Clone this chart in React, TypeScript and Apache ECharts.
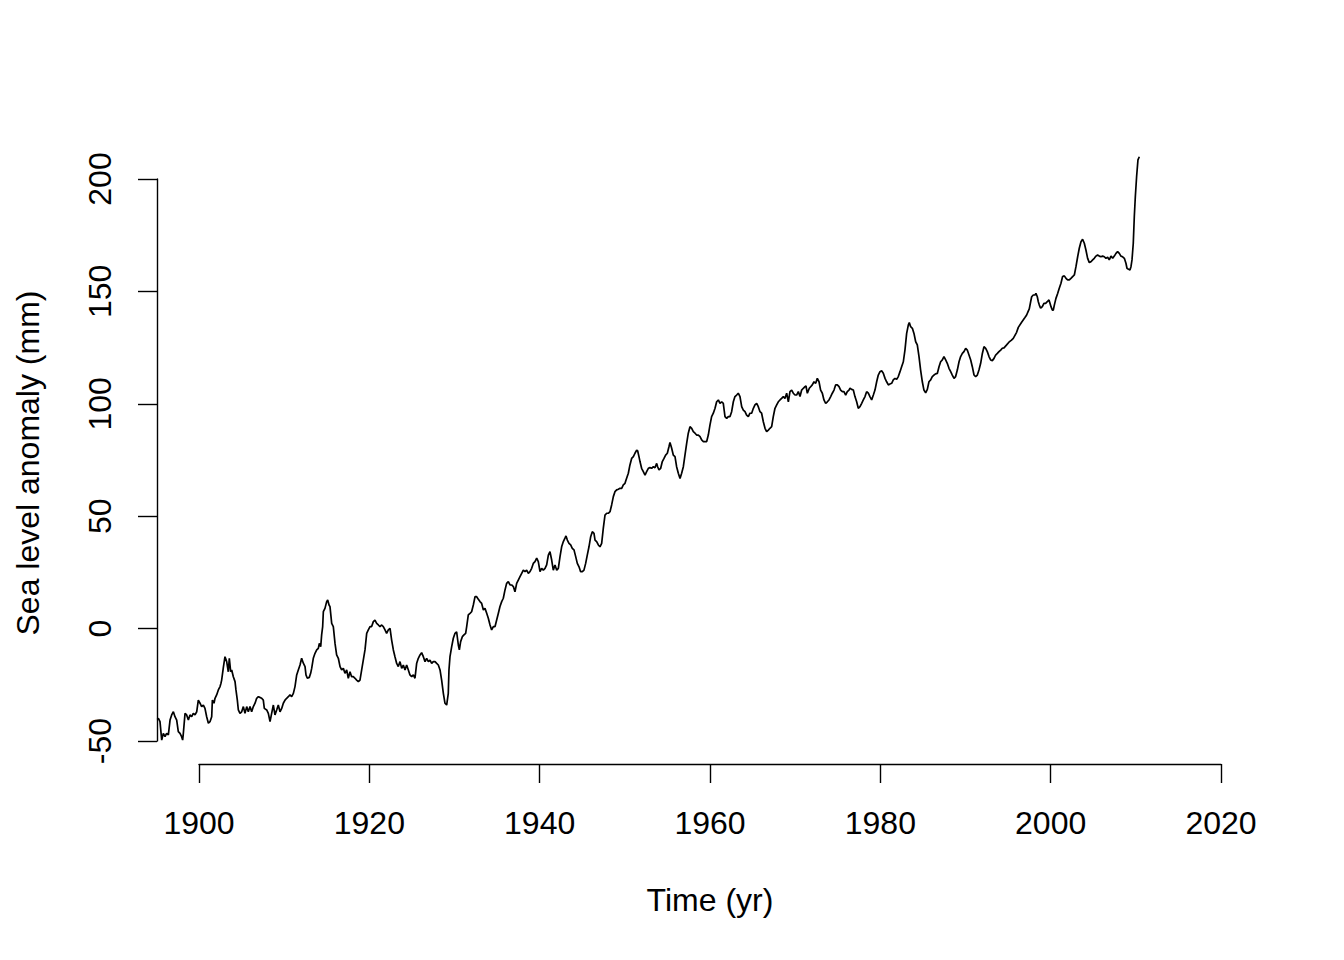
import React, { useEffect, useRef } from "react";
import * as echarts from "echarts";

// Time (yr) of each reading
const time: number[] = [
  1895.10, 1895.23, 1895.42, 1895.62, 1895.81, 1896.01, 1896.20, 1896.40, 1896.60, 1896.79,
  1896.99, 1897.18, 1897.38, 1897.57, 1897.77, 1897.96, 1898.08, 1898.16, 1898.36, 1898.55,
  1898.75, 1898.94, 1899.14, 1899.33, 1899.53, 1899.73, 1899.92, 1900.12, 1900.31, 1900.51,
  1900.70, 1900.90, 1901.10, 1901.29, 1901.49, 1901.57, 1901.76, 1901.88, 1902.07, 1902.27,
  1902.47, 1902.58, 1902.66, 1902.86, 1903.05, 1903.25, 1903.44, 1903.56, 1903.72, 1903.84,
  1904.03, 1904.23, 1904.34, 1904.50, 1904.62, 1904.81, 1905.01, 1905.21, 1905.40, 1905.60,
  1905.79, 1905.99, 1906.18, 1906.38, 1906.58, 1906.77, 1906.97, 1907.16, 1907.36, 1907.55,
  1907.67, 1907.95, 1908.14, 1908.34, 1908.53, 1908.73, 1908.92, 1909.12, 1909.31, 1909.51,
  1909.71, 1909.90, 1910.10, 1910.29, 1910.49, 1910.68, 1910.88, 1911.08, 1911.27, 1911.47,
  1911.66, 1911.86, 1912.05, 1912.25, 1912.45, 1912.56, 1912.72, 1912.95, 1913.11, 1913.23,
  1913.42, 1913.62, 1913.82, 1914.01, 1914.13, 1914.29, 1914.40, 1914.52, 1914.60, 1914.79,
  1914.99, 1915.11, 1915.27, 1915.38, 1915.58, 1915.77, 1915.97, 1916.16, 1916.36, 1916.56,
  1916.75, 1916.95, 1917.14, 1917.34, 1917.53, 1917.73, 1917.92, 1918.12, 1918.32, 1918.51,
  1918.71, 1918.90, 1919.10, 1919.29, 1919.49, 1919.69, 1919.88, 1920.08, 1920.27, 1920.47,
  1920.66, 1920.86, 1921.06, 1921.25, 1921.45, 1921.64, 1921.84, 1922.03, 1922.23, 1922.43,
  1922.62, 1922.82, 1923.01, 1923.21, 1923.40, 1923.60, 1923.80, 1923.99, 1924.19, 1924.38,
  1924.58, 1924.77, 1924.97, 1925.17, 1925.36, 1925.56, 1925.75, 1925.95, 1926.14, 1926.34,
  1926.54, 1926.73, 1926.93, 1927.12, 1927.32, 1927.51, 1927.71, 1927.91, 1928.10, 1928.30,
  1928.49, 1928.69, 1928.88, 1929.08, 1929.27, 1929.35, 1929.47, 1929.67, 1929.86, 1930.06,
  1930.25, 1930.45, 1930.57, 1930.72, 1930.92, 1931.11, 1931.31, 1931.43, 1931.62, 1931.82,
  1932.01, 1932.21, 1932.41, 1932.60, 1932.80, 1932.99, 1933.19, 1933.39, 1933.58, 1933.78,
  1933.97, 1934.17, 1934.36, 1934.56, 1934.76, 1934.95, 1935.15, 1935.34, 1935.54, 1935.73,
  1935.93, 1936.12, 1936.32, 1936.52, 1936.71, 1936.91, 1937.10, 1937.30, 1937.49, 1937.69,
  1937.89, 1938.08, 1938.28, 1938.47, 1938.67, 1938.86, 1939.06, 1939.25, 1939.45, 1939.65,
  1939.84, 1940.04, 1940.23, 1940.43, 1940.63, 1940.82, 1941.02, 1941.21, 1941.41, 1941.60,
  1941.80, 1942.00, 1942.19, 1942.39, 1942.58, 1942.78, 1942.97, 1943.09, 1943.25, 1943.44,
  1943.64, 1943.83, 1944.03, 1944.23, 1944.42, 1944.62, 1944.81, 1945.01, 1945.20, 1945.40,
  1945.59, 1945.79, 1945.99, 1946.18, 1946.38, 1946.50, 1946.69, 1946.89, 1947.08, 1947.28,
  1947.47, 1947.67, 1947.87, 1948.06, 1948.26, 1948.45, 1948.65, 1948.84, 1949.04, 1949.24,
  1949.43, 1949.63, 1949.82, 1950.02, 1950.14, 1950.41, 1950.60, 1950.80, 1951.00, 1951.19,
  1951.39, 1951.51, 1951.66, 1951.78, 1951.97, 1952.17, 1952.37, 1952.56, 1952.76, 1952.95,
  1953.15, 1953.35, 1953.54, 1953.74, 1953.85, 1954.01, 1954.21, 1954.40, 1954.60, 1954.79,
  1954.99, 1955.18, 1955.30, 1955.50, 1955.69, 1955.89, 1956.08, 1956.28, 1956.48, 1956.67,
  1956.87, 1957.06, 1957.26, 1957.45, 1957.65, 1957.85, 1958.04, 1958.24, 1958.43, 1958.63,
  1958.83, 1959.02, 1959.22, 1959.41, 1959.61, 1959.80, 1960.00, 1960.19, 1960.39, 1960.59,
  1960.78, 1960.98, 1961.17, 1961.37, 1961.56, 1961.76, 1961.96, 1962.15, 1962.35, 1962.54,
  1962.74, 1962.93, 1963.13, 1963.32, 1963.52, 1963.72, 1963.91, 1964.11, 1964.30, 1964.50,
  1964.69, 1964.89, 1965.09, 1965.28, 1965.48, 1965.67, 1965.87, 1966.06, 1966.26, 1966.46,
  1966.65, 1966.85, 1967.04, 1967.24, 1967.43, 1967.63, 1967.83, 1968.02, 1968.22, 1968.41,
  1968.61, 1968.80, 1969.00, 1969.20, 1969.39, 1969.59, 1969.78, 1969.98, 1970.17, 1970.37,
  1970.57, 1970.76, 1970.96, 1971.15, 1971.27, 1971.43, 1971.66, 1971.82, 1972.01, 1972.21,
  1972.41, 1972.60, 1972.80, 1972.99, 1973.19, 1973.38, 1973.58, 1973.78, 1973.97, 1974.17,
  1974.36, 1974.56, 1974.75, 1974.95, 1975.15, 1975.34, 1975.54, 1975.73, 1975.93, 1976.12,
  1976.32, 1976.44, 1976.63, 1976.83, 1977.02, 1977.22, 1977.41, 1977.61, 1977.81, 1978.00,
  1978.20, 1978.39, 1978.59, 1978.78, 1978.98, 1979.18, 1979.37, 1979.57, 1979.76, 1979.96,
  1980.15, 1980.35, 1980.55, 1980.74, 1980.94, 1981.13, 1981.33, 1981.52, 1981.72, 1981.92,
  1982.11, 1982.31, 1982.50, 1982.70, 1982.89, 1983.09, 1983.29, 1983.40, 1983.56, 1983.76,
  1983.95, 1984.15, 1984.34, 1984.54, 1984.73, 1984.93, 1985.12, 1985.32, 1985.52, 1985.71,
  1985.91, 1986.10, 1986.30, 1986.49, 1986.69, 1986.89, 1987.08, 1987.28, 1987.47, 1987.67,
  1987.86, 1988.06, 1988.26, 1988.45, 1988.65, 1988.84, 1989.04, 1989.24, 1989.43, 1989.63,
  1989.82, 1990.02, 1990.21, 1990.41, 1990.61, 1990.80, 1991.00, 1991.19, 1991.39, 1991.58,
  1991.78, 1991.98, 1992.17, 1992.37, 1992.56, 1992.76, 1992.95, 1993.15, 1993.35, 1993.54,
  1993.74, 1993.93, 1994.13, 1994.32, 1994.52, 1994.83, 1995.10, 1995.40, 1995.61, 1996.00,
  1996.20, 1996.59, 1996.98, 1997.18, 1997.37, 1997.49, 1997.65, 1997.77, 1997.96, 1998.16,
  1998.27, 1998.43, 1998.55, 1998.67, 1998.82, 1999.02, 1999.21, 1999.41, 1999.60, 1999.80,
  1999.92, 2000.04, 2000.19, 2000.31, 2000.43, 2000.62, 2000.82, 2001.01, 2001.21, 2001.40,
  2001.60, 2001.80, 2001.99, 2002.19, 2002.38, 2002.58, 2002.78, 2002.97, 2003.17, 2003.36,
  2003.56, 2003.75, 2003.95, 2004.14, 2004.34, 2004.54, 2004.73, 2004.93, 2005.12, 2005.32,
  2005.51, 2005.71, 2005.91, 2006.10, 2006.30, 2006.49, 2006.69, 2006.88, 2007.08, 2007.28,
  2007.47, 2007.67, 2007.86, 2008.06, 2008.25, 2008.45, 2008.65, 2008.84, 2008.96, 2009.15,
  2009.31, 2009.43, 2009.55, 2009.70, 2009.82, 2009.94, 2010.09, 2010.25, 2010.41,
];

// Sea level anomaly (mm) of each reading
const anomaly: number[] = [
  -40.5, -39.9, -41.4, -49.6, -46.6, -48.1, -46.6, -47.3, -40.7, -38.4,
  -37.0, -39.2, -40.7, -45.8, -46.6, -48.1, -49.6, -46.6, -37.7, -38.4,
  -40.7, -38.4, -39.2, -37.7, -38.4, -37.0, -31.8, -33.2, -34.7, -34.0,
  -35.5, -39.2, -42.1, -41.4, -39.2, -31.8, -33.2, -31.0, -29.5, -27.3,
  -25.8, -24.3, -22.9, -17.3, -12.5, -14.7, -19.2, -13.2, -19.2, -18.4,
  -21.4, -23.6, -27.3, -31.8, -36.2, -37.7, -37.0, -34.7, -37.7, -34.7,
  -37.0, -34.7, -37.0, -34.7, -33.2, -31.0, -30.3, -30.6, -31.0, -31.8,
  -35.5, -36.2, -37.7, -41.4, -37.7, -34.0, -38.4, -36.2, -34.0, -37.0,
  -35.5, -33.2, -31.8, -31.0, -30.3, -29.5, -30.3, -28.8, -25.8, -20.6,
  -18.4, -16.2, -13.2, -15.4, -16.9, -20.6, -22.1, -21.7, -19.9, -17.7,
  -13.2, -11.0, -9.5, -8.8, -6.6, -8.0, -2.8, 0.9, 7.5, 9.0,
  12.0, 12.7, 10.5, 9.8, 2.3, 0.9, -6.6, -11.7, -13.2, -16.9,
  -18.4, -17.7, -19.9, -18.4, -22.1, -19.2, -21.4, -21.4, -22.1, -22.9,
  -23.6, -22.9, -18.4, -14.0, -9.5, -2.1, -0.6, 0.9, 0.9, 3.1,
  3.8, 2.3, 1.6, 0.9, 1.6, 0.9, -0.6, -2.1, -0.6, 0.1,
  -5.1, -9.5, -12.5, -15.5, -16.9, -14.7, -17.7, -16.2, -18.4, -16.2,
  -18.4, -20.6, -21.4, -20.6, -22.1, -15.4, -13.2, -11.7, -10.7, -12.5,
  -14.7, -13.2, -14.7, -14.0, -15.5, -14.7, -14.7, -15.5, -16.2, -18.4,
  -22.9, -28.8, -33.2, -34.0, -28.8, -18.4, -12.5, -8.0, -4.3, -2.1,
  -1.4, -7.3, -9.5, -5.8, -3.6, -2.8, -2.1, 0.9, 6.1, 6.8,
  7.5, 10.5, 14.2, 14.2, 13.0, 12.0, 11.2, 8.3, 9.0, 6.8,
  4.6, 1.6, -0.6, 0.9, 0.9, 3.8, 6.8, 9.8, 12.0, 13.5,
  17.2, 20.1, 20.9, 19.4, 19.4, 18.7, 16.4, 20.1, 21.6, 23.1,
  24.6, 26.0, 25.3, 26.0, 24.6, 25.3, 26.8, 29.0, 29.8, 31.3,
  29.8, 25.3, 26.8, 26.0, 26.8, 28.3, 32.7, 34.2, 30.5, 26.0,
  28.3, 26.0, 26.8, 32.0, 36.4, 38.7, 40.2, 41.2, 39.4, 37.9,
  37.2, 35.7, 35.0, 32.0, 29.0, 27.5, 25.3, 25.3, 26.0, 29.0,
  32.7, 36.4, 40.9, 43.1, 42.4, 39.4, 38.7, 37.2, 36.4, 37.9,
  44.6, 50.5, 51.3, 51.3, 52.0, 55.0, 58.7, 60.9, 61.7, 62.0,
  62.4, 62.4, 63.9, 64.6, 66.1, 69.1, 72.8, 75.7, 76.5, 78.0,
  79.4, 79.0, 76.5, 74.3, 71.3, 69.8, 68.3, 69.8, 71.3, 71.6,
  71.3, 72.0, 71.6, 73.5, 72.0, 70.6, 71.3, 74.3, 75.7, 77.2,
  78.0, 80.9, 82.8, 80.2, 77.2, 76.5, 72.0, 69.1, 66.8, 69.1,
  72.0, 77.2, 82.4, 86.9, 89.8, 89.1, 87.6, 86.9, 86.1, 86.1,
  85.4, 83.9, 83.2, 83.2, 83.2, 86.1, 90.6, 94.3, 95.8, 98.0,
  100.9, 101.7, 100.2, 100.9, 100.2, 94.3, 93.5, 94.3, 94.3, 96.5,
  100.9, 103.2, 103.9, 104.7, 103.2, 98.7, 97.2, 96.5, 95.0, 94.3,
  95.8, 95.8, 98.0, 99.5, 100.2, 98.7, 96.5, 95.8, 92.0, 89.1,
  87.6, 88.3, 89.1, 89.8, 94.3, 98.0, 99.5, 100.9, 101.7, 102.4,
  103.2, 102.4, 104.7, 100.9, 105.4, 106.1, 104.7, 103.9, 103.9, 105.4,
  103.2, 106.1, 106.9, 107.6, 107.9, 104.7, 106.9, 107.6, 108.4, 109.8,
  109.1, 111.3, 109.8, 106.1, 104.7, 101.7, 100.2, 100.9, 101.7, 103.2,
  104.7, 106.1, 108.4, 108.4, 107.6, 106.1, 105.4, 105.4, 103.9, 105.4,
  106.1, 106.9, 106.4, 106.1, 103.2, 100.9, 98.0, 98.7, 100.2, 101.7,
  103.2, 105.4, 104.7, 103.2, 101.7, 103.9, 106.1, 109.8, 112.8, 114.3,
  114.7, 113.6, 111.3, 109.8, 108.4, 108.8, 109.1, 110.6, 111.3, 110.9,
  112.1, 114.3, 116.5, 118.7, 123.9, 131.3, 135.1, 136.1, 134.3, 133.6,
  131.3, 127.6, 126.2, 121.0, 115.0, 109.8, 106.1, 104.9, 106.4, 109.8,
  110.6, 112.1, 112.8, 113.3, 113.5, 116.5, 118.7, 119.5, 121.0, 119.5,
  118.0, 115.8, 114.3, 112.8, 111.3, 112.1, 115.0, 118.7, 121.0, 122.4,
  123.2, 124.7, 123.9, 121.7, 119.5, 116.5, 112.8, 112.1, 112.8, 115.0,
  118.0, 122.4, 125.4, 124.7, 123.2, 121.0, 119.5, 119.2, 120.2, 121.7,
  122.4, 123.2, 123.9, 124.7, 124.9, 126.2, 127.4, 128.3, 129.1, 131.8,
  134.0, 136.3, 138.4, 139.5, 141.2, 142.2, 145.4, 147.6, 148.4, 148.4,
  149.1, 147.6, 145.4, 143.9, 142.5, 143.2, 144.7, 144.7, 145.4, 146.2,
  144.7, 143.2, 141.7, 141.7, 143.9, 146.9, 149.1, 151.4, 153.6, 156.6,
  156.9, 155.8, 155.1, 155.1, 155.8, 156.6, 157.3, 161.0, 165.4, 169.2,
  172.1, 173.2, 171.4, 168.4, 164.7, 162.8, 163.2, 164.0, 164.7, 165.7,
  166.2, 165.7, 165.4, 165.7, 165.4, 164.7, 165.2, 164.0, 165.7, 164.7,
  165.7, 166.9, 167.7, 166.9, 165.7, 165.4, 164.7, 162.5, 160.3, 159.8,
  159.5, 161.0, 164.0, 171.4, 183.2, 192.1, 201.0, 208.5, 209.9,
];

const xTicks = { min: 1900, max: 2020, step: 20 };
const yTicks = { min: -50, max: 200, step: 50 };
const xTitle = "Time (yr)";
const yTitle = "Sea level anomaly (mm)";

const FONT = "'Liberation Sans', Arial, Helvetica, sans-serif";
const FS = 32;

export default function App() {
  const ref = useRef<HTMLDivElement>(null);

  useEffect(() => {
    if (!ref.current) return;
    const chart = echarts.init(ref.current, undefined, { renderer: "svg" });
    const points = time.map((t, i) => [t, anomaly[i]]);

    const axisStyle = { lineStyle: { color: "#000", width: 1.4 } };

    chart.setOption({
      animation: false,
      backgroundColor: "#fff",
      grid: [
        { left: 156.42, right: 123, top: 156.5, bottom: 219, containLabel: false },
        { left: 199, right: 123, top: 700, bottom: 196, containLabel: false },
        { left: 157, width: 20, top: 179, bottom: 219, containLabel: false },
      ],
      xAxis: [
        { gridIndex: 0, type: "value", min: 1895, max: 2020, show: false },
        {
          gridIndex: 1,
          type: "value",
          min: xTicks.min,
          max: xTicks.max,
          interval: xTicks.step,
          position: "bottom",
          axisLine: { show: true, ...axisStyle },
          axisTick: { show: true, inside: false, length: 19, ...axisStyle },
          splitLine: { show: false },
          axisLabel: {
            color: "#000",
            fontSize: FS,
            fontFamily: FONT,
            margin: 43,
            showMinLabel: true,
            showMaxLabel: true,
            formatter: (v: number) => String(v),
          },
        },
        { gridIndex: 2, type: "value", min: 0, max: 1, show: false },
      ],
      yAxis: [
        { gridIndex: 0, type: "value", min: -50, max: 210, show: false },
        { gridIndex: 1, type: "value", min: 0, max: 1, show: false },
        {
          gridIndex: 2,
          type: "value",
          min: yTicks.min,
          max: yTicks.max,
          interval: yTicks.step,
          position: "left",
          axisLine: { show: true, ...axisStyle },
          axisTick: { show: true, inside: false, length: 19, ...axisStyle },
          splitLine: { show: false },
          axisLabel: {
            color: "#000",
            fontSize: FS,
            fontFamily: FONT,
            rotate: 90,
            margin: 41,
            showMinLabel: true,
            showMaxLabel: true,
            formatter: (v: number) => String(v),
          },
        },
      ],
      graphic: [
        {
          type: "text",
          x: 710,
          y: 900,
          style: {
            text: xTitle,
            fill: "#000",
            fontSize: FS,
            fontFamily: FONT,
            align: "center",
            verticalAlign: "middle",
          },
        },
        {
          type: "text",
          x: 28,
          y: 463,
          rotation: Math.PI / 2,
          style: {
            text: yTitle,
            fill: "#000",
            fontSize: FS,
            fontFamily: FONT,
            align: "center",
            verticalAlign: "middle",
          },
        },
      ],
      series: [
        {
          type: "line",
          xAxisIndex: 0,
          yAxisIndex: 0,
          data: points,
          showSymbol: false,
          symbol: "none",
          smooth: false,
          lineStyle: { color: "#000", width: 1.7 },
          clip: true,
        },
      ],
    });

    return () => chart.dispose();
  }, []);

  return (
    <div
      ref={ref}
      style={{ position: "fixed", left: 0, top: 0, width: 1344, height: 960, background: "#fff" }}
    />
  );
}
